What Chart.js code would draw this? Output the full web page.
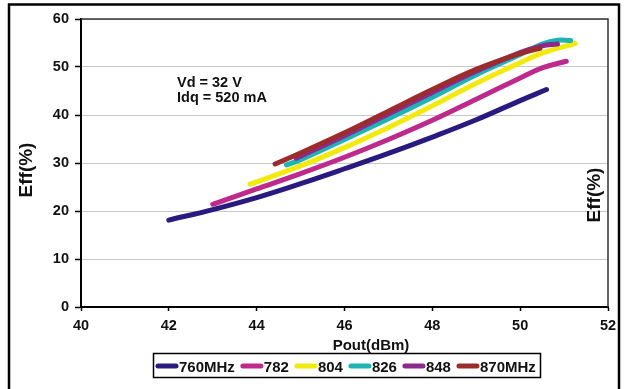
<!DOCTYPE html>
<html>
<head>
<meta charset="utf-8">
<script src="https://cdn.jsdelivr.net/npm/chart.js@4/dist/chart.umd.min.js"></script>
<style>
  body { margin: 0; background: #fff; }
  canvas { display: block; }
</style>
</head>
<body>
<canvas id="effChart" width="624" height="389"></canvas>
<script>
// efficiency vs output power, one curve per frequency
const seriesNames = ['760MHz', '782', '804', '826', '848', '870MHz'];
const seriesColors = ['#2A1A80', '#BE2A8C', '#F2EA0C', '#1EB4B4', '#8C2A8E', '#9C2B2B'];

const pout760 = [42.0, 43.0, 44.0, 45.0, 46.0, 47.0, 48.0, 49.0, 50.0, 50.6];
const eff760 = [18.1, 20.3, 22.8, 25.7, 28.8, 32.0, 35.4, 39.0, 43.0, 45.3];

const pout782 = [43.0, 44.0, 45.0, 46.0, 47.0, 48.0, 49.0, 50.0, 50.5, 51.05];
const eff782 = [21.4, 24.6, 27.8, 31.2, 34.9, 38.9, 43.3, 47.7, 49.8, 51.2];

const pout804 = [43.85, 45.0, 46.0, 47.0, 48.0, 49.0, 50.0, 50.5, 51.25];
const eff804 = [25.6, 29.4, 33.2, 37.4, 41.9, 46.6, 50.9, 52.9, 54.9];

const pout826 = [44.68, 45.0, 46.0, 47.0, 48.0, 49.0, 50.0, 50.5, 50.85, 51.15];
const eff826 = [29.6, 30.7, 34.9, 39.2, 43.7, 48.4, 52.6, 54.8, 55.6, 55.5];

const pout848 = [44.9, 46.0, 47.0, 48.0, 49.0, 50.0, 50.5, 50.85];
const eff848 = [31.0, 35.7, 40.2, 44.7, 49.1, 53.0, 54.4, 54.8];

const pout870 = [44.42, 45.0, 46.0, 47.0, 48.0, 49.0, 50.0, 50.45];
const eff870 = [29.8, 32.1, 36.3, 40.8, 45.3, 49.5, 52.8, 53.9];

const xTicks = [40, 42, 44, 46, 48, 50, 52];
const yTicks = [0, 10, 20, 30, 40, 50, 60];

const noteLines = ['Vd = 32 V', 'Idq = 520 mA'];
const xTitle = 'Pout(dBm)';
const yTitle = 'Eff(%)';

const FONT = '"Liberation Sans", Arial, sans-serif';

const allPout = [pout760, pout782, pout804, pout826, pout848, pout870];
const allEff = [eff760, eff782, eff804, eff826, eff848, eff870];

const toPoints = (xs, ys) => xs.map((x, i) => ({ x: x, y: ys[i] }));

// frame, titles, note and legend drawn by hand
const decorPlugin = {
  id: 'decor',
  beforeDraw(chart) {
    const ctx = chart.ctx;
    ctx.save();
    ctx.fillStyle = '#fff';
    ctx.fillRect(0, 0, chart.width, chart.height);
    ctx.strokeStyle = '#000';
    ctx.lineWidth = 2.5;
    ctx.strokeRect(9, 4.5, 610, 420);
    ctx.restore();
  },
  afterDraw(chart) {
    const ctx = chart.ctx;
    const area = chart.chartArea;
    ctx.save();

    // top and right edge of the plot
    ctx.strokeStyle = '#333';
    ctx.lineWidth = 1.5;
    ctx.beginPath();
    ctx.moveTo(area.left, area.top);
    ctx.lineTo(area.right, area.top);
    ctx.lineTo(area.right, area.bottom);
    ctx.stroke();

    ctx.fillStyle = '#111';

    // note
    ctx.font = 'bold 14.5px ' + FONT;
    ctx.textAlign = 'left';
    ctx.textBaseline = 'alphabetic';
    ctx.fillText(noteLines[0], 177, 87);
    ctx.fillText(noteLines[1], 177, 102);

    // x title
    ctx.font = 'bold 15px ' + FONT;
    ctx.textAlign = 'center';
    ctx.textBaseline = 'middle';
    ctx.fillText(xTitle, 371, 346);

    // y titles (left and right)
    ctx.font = 'bold 19px ' + FONT;
    ctx.save();
    ctx.translate(27, 170);
    ctx.rotate(-Math.PI / 2);
    ctx.fillText(yTitle, 0, 0);
    ctx.restore();
    ctx.save();
    ctx.translate(595, 195);
    ctx.rotate(-Math.PI / 2);
    ctx.fillText(yTitle, 0, 0);
    ctx.restore();

    // legend
    ctx.strokeStyle = '#000';
    ctx.lineWidth = 1.5;
    ctx.strokeRect(153.5, 353.5, 387, 24);
    ctx.font = 'bold 15px ' + FONT;
    ctx.textAlign = 'left';
    ctx.textBaseline = 'alphabetic';
    let x = 156;
    chart.data.datasets.forEach((ds) => {
      ctx.strokeStyle = ds.borderColor;
      ctx.lineWidth = 5;
      ctx.lineCap = 'round';
      ctx.beginPath();
      ctx.moveTo(x + 2, 366);
      ctx.lineTo(x + 20, 366);
      ctx.stroke();
      x += 23;
      ctx.fillStyle = '#111';
      ctx.fillText(ds.label, x, 372);
      x += ctx.measureText(ds.label).width + 6;
    });

    ctx.restore();
  }
}; // end plugin

const makeChart = () => {
  const canvas = document.getElementById('effChart');

  const datasets = seriesNames.map((name, i) => ({
    label: name,
    data: toPoints(allPout[i], allEff[i]),
    borderColor: seriesColors[i],
    backgroundColor: seriesColors[i],
    borderWidth: 5,
    borderCapStyle: 'round',
    borderJoinStyle: 'round',
    pointRadius: 0,
    tension: 0.4,
    fill: false,
    order: seriesNames.length - i
  }));

  new Chart(canvas, {
    type: 'line',
    data: { datasets: datasets },
    options: {
      responsive: false,
      devicePixelRatio: 1,
      animation: false,
      layout: { padding: { left: 0, right: 16, top: 19, bottom: 52 } },
      plugins: {
        legend: { display: false },
        tooltip: { enabled: false }
      },
      scales: {
        x: {
          type: 'linear',
          min: xTicks[0],
          max: xTicks[xTicks.length - 1],
          afterBuildTicks: (scale) => { scale.ticks = xTicks.map(v => ({ value: v })); },
          afterFit: (scale) => { scale.height = 30; },
          grid: { drawOnChartArea: false, tickLength: 4, tickColor: '#000', tickWidth: 1.5 },
          border: { color: '#000', width: 2 },
          ticks: { color: '#111', padding: 6, font: { family: FONT, size: 14.5, weight: 'bold' } }
        },
        y: {
          min: yTicks[0],
          max: yTicks[yTicks.length - 1],
          afterBuildTicks: (scale) => { scale.ticks = yTicks.map(v => ({ value: v })); },
          afterFit: (scale) => { scale.width = 81; },
          grid: { color: '#C8C8C8', lineWidth: 1, tickLength: 6, tickColor: '#000', tickWidth: 1.5 },
          border: { color: '#000', width: 2 },
          ticks: { color: '#111', padding: 6, font: { family: FONT, size: 14.5, weight: 'bold' } }
        }
      }
    },
    plugins: [decorPlugin]
  }); // end chart
};

window.addEventListener('load', makeChart, false);
</script>
</body>
</html>
